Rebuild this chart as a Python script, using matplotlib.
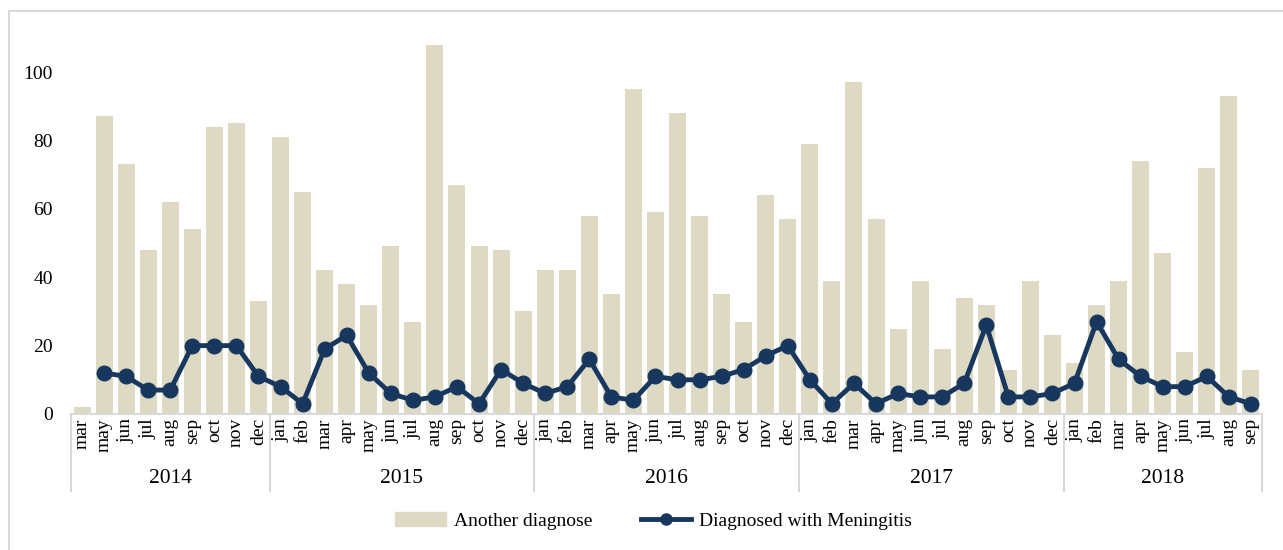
import matplotlib.pyplot as plt
import matplotlib.transforms as mtransforms
from matplotlib.lines import Line2D
from matplotlib.patches import Patch
import numpy as np

plt.rcParams['font.family'] = ['Liberation Serif', 'DejaVu Serif']

#%% data
years = ['2014', '2015', '2016', '2017', '2018']
months_2014 = ['mar', 'may', 'jun', 'jul', 'aug', 'sep', 'oct', 'nov', 'dec']
months_full = ['jan', 'feb', 'mar', 'apr', 'may', 'jun', 'jul', 'aug', 'sep', 'oct', 'nov', 'dec']
months_2018 = ['jan', 'feb', 'mar', 'apr', 'may', 'jun', 'jul', 'aug', 'sep']
year_months = [months_2014, months_full, months_full, months_full, months_2018]

another = [2, 87, 73, 48, 62, 54, 84, 85, 33,
           81, 65, 42, 38, 32, 49, 27, 108, 67, 49, 48, 30,
           42, 42, 58, 35, 95, 59, 88, 58, 35, 27, 64, 57,
           79, 39, 97, 57, 25, 39, 19, 34, 32, 13, 39, 23,
           15, 32, 39, 74, 47, 18, 72, 93, 13]
meningitis = [np.nan, 12, 11, 7, 7, 20, 20, 20, 11,
              8, 3, 19, 23, 12, 6, 4, 5, 8, 3, 13, 9,
              6, 8, 16, 5, 4, 11, 10, 10, 11, 13, 17, 20,
              10, 3, 9, 3, 6, 5, 5, 9, 26, 5, 5, 6,
              9, 27, 16, 11, 8, 8, 11, 5, 3]

month_labels = [m for ms in year_months for m in ms]
x = np.arange(len(month_labels))

#%% plot
bar_col = '#DDD9C3'
line_col = '#17375E'
grid_col = '#D9D9D9'

fig = plt.figure(figsize=(12.83, 5.5), dpi=100)
ax = fig.add_axes([71 / 1283, 136 / 550, (1262 - 71) / 1283, (414 - 31) / 550])

ax.bar(x, another, width=0.77, color=bar_col, zorder=2)
ax.plot(x, meningitis, color=line_col, lw=3.5, marker='o', ms=10.5, zorder=3)

ax.set_xlim(-0.5, len(x) - 0.5)
ax.set_ylim(0, 112)
ax.set_yticks(np.arange(0, 101, 20))
ax.tick_params(axis='y', length=0, labelsize=14, pad=13)
ax.set_xticks(x)
ax.set_xticklabels(month_labels, rotation=90, fontsize=14)
ax.tick_params(axis='x', length=0, pad=3)
for s in ['top', 'right', 'left']:
    ax.spines[s].set_visible(False)
ax.spines['bottom'].set_color(grid_col)
ax.spines['bottom'].set_linewidth(1.5)

# year level of the category axis
trans = mtransforms.blended_transform_factory(ax.transData, ax.transAxes)
start = 0
bounds = [-0.5]
for yr, ms in zip(years, year_months):
    end = start + len(ms)
    ax.text((start + end - 1) / 2, -0.168, yr, transform=trans, ha='center',
            va='center', fontsize=15.5)
    bounds.append(end - 0.5)
    start = end
for b in bounds:
    ax.plot([b, b], [0, -0.2], transform=trans, color=grid_col, lw=1.5,
            clip_on=False)

# legend
handles = [Patch(color=bar_col, label='Another diagnose'),
           Line2D([], [], color=line_col, lw=3.5, marker='o', ms=8,
                  label='Diagnosed with Meningitis')]
fig.legend(handles=handles, loc='center', bbox_to_anchor=(0.5 + 12 / 1283, 1 - 521 / 550),
           ncol=2, frameon=False, fontsize=14, handlelength=2.6,
           columnspacing=2.5, handletextpad=0.4)

# outer frame (top and left only visible)
fig.add_artist(Line2D([8.5 / 1283, 8.5 / 1283], [0, 1 - 10.5 / 550],
                      color=grid_col, lw=1.5))
fig.add_artist(Line2D([8.5 / 1283, 1], [1 - 10.5 / 550, 1 - 10.5 / 550],
                      color=grid_col, lw=1.5))

fig.savefig('out.png', dpi=100)
